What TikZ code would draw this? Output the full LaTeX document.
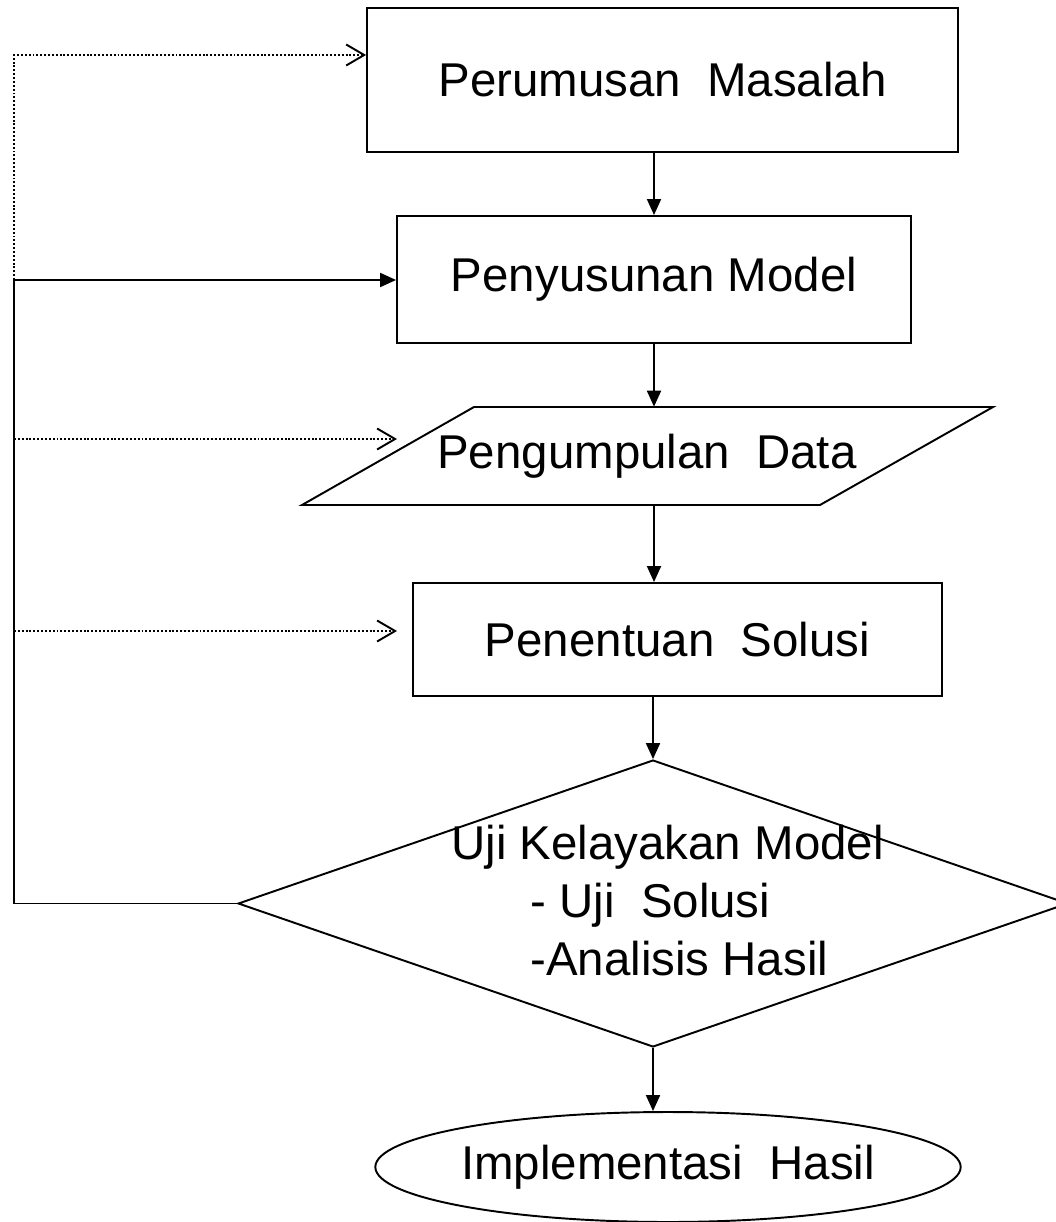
\documentclass[tikz,border=0pt]{standalone}
\usepackage{fontspec}
\setmainfont{Liberation Sans}
\usetikzlibrary{shapes.geometric,arrows.meta}

\tikzset{
	kotak/.style={draw, line width=1.1pt, inner sep=0pt, align=center},
	alur/.style={line width=1.1pt, -{Triangle[length=0.32cm,width=0.28cm]}},
	balik/.style={line width=1.1pt, dash pattern=on 1.1pt off 1.1pt, -{Straight Barb[length=0.36cm,width=0.42cm,line width=1.1pt]}}
}

\begin{document}
\begin{tikzpicture}[x=0.02cm, y=-0.02cm, font=\fontsize{27pt}{33pt}\selectfont]
		\useasboundingbox (0,0) rectangle (1055,1222);

		\node[kotak, minimum width=11.82cm, minimum height=2.88cm] (masalah) at (662.5,80) {Perumusan~ Masalah};
		\node[kotak, minimum width=10.28cm, minimum height=2.54cm] (model) at (654,279.5) {Penyusunan Model};
		\draw[line width=1.1pt] (474,407) -- (993,407) -- (820,505) -- (302,505) -- cycle;
		\node[inner sep=0pt, minimum height=1.96cm] (data) at (647,456) {Pengumpulan~ Data};
		\node[kotak, minimum width=10.58cm, minimum height=2.26cm] (solusi) at (677.5,639.5) {Penentuan~ Solusi};
		\node[kotak, diamond, minimum width=16.6cm, minimum height=5.74cm] (uji) at (653,903.5) {};
		\node[inner sep=0pt, anchor=west, align=left] (ujiteks) at ([xshift=-4.04cm,yshift=0.06cm]uji.center) {Uji Kelayakan Model\\\hspace*{1.58cm}- Uji~ Solusi\\\hspace*{1.58cm}-Analisis Hasil};
		\node[kotak, ellipse, minimum width=11.56cm, minimum height=2.2cm] (impl) at (668,1167) {Implementasi~ Hasil};

		\draw[alur] (model.north |- masalah.south) -- (model.north);
		\draw[alur] (model.south) -- (model.south |- data.north);
		\draw[alur] (model.south |- data.south) -- (model.south |- solusi.north);
		\draw[alur] (uji.north |- solusi.south) -- (uji.north);
		\draw[alur] (uji.south) -- (uji.south |- impl.north);

		\coordinate (kiri) at (14,280);
		\coordinate (atas) at (14,55);
		\coordinate (kedata) at (397,439);
		\coordinate (kesolusi) at (397,631);
		\draw[line width=1.1pt] (uji.west) -- (uji.west -| kiri) -- (kiri);
		\draw[alur] (kiri) -- (kiri -| model.west);
		\draw[balik] (kiri) -- (atas) -- (atas -| masalah.west);
		\draw[balik] (kedata -| kiri) -- (kedata);
		\draw[balik] (kesolusi -| kiri) -- (kesolusi);
	\end{tikzpicture}
\end{document}
